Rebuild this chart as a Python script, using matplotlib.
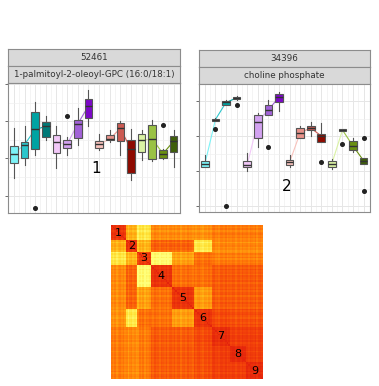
import matplotlib

matplotlib.use("Agg")
import matplotlib.pyplot as plt
import numpy as np
from matplotlib.colors import LinearSegmentedColormap

# box colours, four groups of four
box_colors = [
    "#7CF2F6", "#2CC6CC", "#00A3A3", "#007A78",
    "#F2C8F8", "#D2A2F0", "#A262D8", "#7C08C8",
    "#F8C2BC", "#E8928A", "#CC5A52", "#8E0A00",
    "#DAF2A4", "#9AC244", "#6A9010", "#3E5E0A",
]

# panel 1: 52461 / 1-palmitoyl-2-oleoyl-GPC
p1_whislo = [0.46, 0.82, 1.08, 1.49, 0.73, 1.08, 1.35, 1.86, 1.22, 1.44, 1.08, 0.41, 0.95, 0.93, 0.99, 0.77]
p1_q1 = [0.88, 1.01, 1.26, 1.58, 1.15, 1.29, 1.56, 2.10, 1.28, 1.49, 1.47, 0.62, 1.16, 0.99, 1.02, 1.16]
p1_med = [1.13, 1.37, 1.78, 1.86, 1.43, 1.38, 1.93, 2.41, 1.38, 1.52, 1.81, 1.24, 1.49, 1.52, 1.13, 1.46]
p1_q3 = [1.33, 1.44, 2.24, 1.98, 1.62, 1.50, 2.04, 2.59, 1.47, 1.62, 1.95, 1.50, 1.65, 1.91, 1.22, 1.60]
p1_whishi = [1.83, 1.86, 2.53, 2.13, 1.86, 1.58, 2.36, 2.83, 1.65, 1.76, 2.02, 1.80, 1.77, 2.04, 1.26, 1.77]
p1_fliers = {3: [-0.33], 6: [2.15], 15: [1.91]}

# panel 2: 34396 / choline phosphate
p2_whislo = [1.11, 2.43, 2.89, 3.05, 1.01, 1.68, 2.60, 2.73, 1.13, 1.94, 2.01, 1.84, 1.06, 2.15, 1.55, 1.22]
p2_q1 = [1.13, 2.45, 2.90, 3.07, 1.11, 1.94, 2.62, 2.99, 1.17, 1.96, 2.18, 1.84, 1.13, 2.15, 1.60, 1.22]
p2_med = [1.20, 2.48, 2.97, 3.10, 1.18, 2.41, 2.76, 3.12, 1.25, 2.10, 2.24, 2.01, 1.22, 2.18, 1.72, 1.30]
p2_q3 = [1.28, 2.51, 3.00, 3.14, 1.28, 2.60, 2.90, 3.22, 1.32, 2.24, 2.31, 2.08, 1.28, 2.20, 1.86, 1.37]
p2_whishi = [1.46, 2.53, 3.05, 3.16, 1.53, 2.67, 3.05, 3.28, 1.46, 2.29, 2.41, 2.38, 1.34, 2.21, 1.94, 1.37]
p2_fliers = {2: [2.20], 3: [0.0], 4: [2.90], 7: [1.68], 12: [1.25], 14: [1.79], 16: [1.96, 0.42]}

# heatmap: cluster sizes and block levels (1 = red, 0 = yellow)
cluster_sizes = [9, 7, 8, 13, 13, 11, 11, 10, 10]
cluster_labels = ["1", "2", "3", "4", "5", "6", "7", "8", "9"]
block_levels = [
    [0.92, 0.50, 0.30, 0.62, 0.62, 0.60, 0.66, 0.66, 0.66],
    [0.50, 0.92, 0.48, 0.74, 0.74, 0.28, 0.62, 0.62, 0.62],
    [0.30, 0.48, 0.88, 0.18, 0.55, 0.70, 0.66, 0.66, 0.66],
    [0.62, 0.74, 0.18, 0.92, 0.70, 0.70, 0.76, 0.76, 0.76],
    [0.62, 0.74, 0.55, 0.70, 0.92, 0.56, 0.76, 0.76, 0.76],
    [0.60, 0.28, 0.70, 0.70, 0.56, 0.92, 0.82, 0.80, 0.80],
    [0.66, 0.62, 0.66, 0.76, 0.76, 0.82, 0.94, 0.86, 0.86],
    [0.66, 0.62, 0.66, 0.76, 0.76, 0.80, 0.86, 0.96, 0.86],
    [0.66, 0.62, 0.66, 0.76, 0.76, 0.80, 0.86, 0.86, 0.96],
]
# per-variable stripe offsets, one per row/column (gives the streaky look)
stripe = [
    0.02, -0.06, 0.04, -0.10, 0.00, 0.05, -0.04, 0.03, -0.08,
    0.04, -0.12, 0.02, 0.06, -0.05, 0.01, -0.09,
    -0.14, 0.03, -0.06, 0.05, -0.10, 0.02, -0.03, 0.04,
    0.03, -0.05, 0.06, -0.02, 0.01, -0.08, 0.04, 0.00, -0.04, 0.05, -0.07, 0.02, 0.03,
    -0.03, 0.05, -0.06, 0.02, 0.04, -0.10, 0.01, 0.03, -0.05, 0.06, -0.02, 0.00, -0.07,
    0.04, -0.06, 0.02, 0.05, -0.03, -0.09, 0.03, 0.01, -0.05, 0.06, -0.02,
    0.02, 0.05, -0.04, 0.00, -0.08, 0.04, 0.03, -0.03, 0.06, -0.06, 0.01,
    -0.02, 0.05, 0.03, -0.07, 0.02, 0.04, -0.04, 0.06, -0.01, 0.00,
    0.03, -0.05, 0.05, 0.01, -0.03, 0.06, -0.08, 0.02, 0.04, -0.02,
]

W, H = 379, 386


def px_axes(fig, x0, y0, x1, y1):
    return fig.add_axes([x0 / W, 1 - y1 / H, (x1 - x0) / W, (y1 - y0) / H])


def strip(fig, x0, y0, x1, y1, text):
    ax = px_axes(fig, x0, y0, x1, y1)
    ax.set_facecolor("#D9D9D9")
    ax.set_xticks([])
    ax.set_yticks([])
    for s in ax.spines.values():
        s.set_color("#8C8C8C")
        s.set_linewidth(0.8)
    ax.text(0.5, 0.5, text, ha="center", va="center", fontsize=6.3, color="#333333", transform=ax.transAxes)


def box_panel(fig, rect, titles, whislo, q1, med, q3, whishi, fliers, ylim, label, label_pos):
    x0, y0, x1, y1 = rect
    strip(fig, x0, y0, x1, y0 + 17, titles[0])
    strip(fig, x0, y0 + 17, x1, y0 + 34, titles[1])
    ax = px_axes(fig, x0, y0 + 34, x1, y1)
    pos = np.arange(1, 17)
    stats = []
    for i in range(16):
        stats.append(dict(whislo=whislo[i], q1=q1[i], med=med[i], q3=q3[i], whishi=whishi[i],
                          fliers=fliers.get(i + 1, [])))
    art = ax.bxp(stats, positions=pos, widths=0.72, patch_artist=True, zorder=3,
                 boxprops=dict(edgecolor="#555555", linewidth=0.8),
                 medianprops=dict(color="#333333", linewidth=1.0),
                 whiskerprops=dict(color="#555555", linewidth=0.8),
                 capprops=dict(linewidth=0),
                 flierprops=dict(marker="o", markersize=2.6, markerfacecolor="#222222",
                                 markeredgecolor="#222222"))
    for patch, c in zip(art["boxes"], box_colors):
        patch.set_facecolor(c)
    # median lines within each group
    for g in range(4):
        for k in range(3):
            i = g * 4 + k
            ax.plot(pos[i:i + 2], med[i:i + 2], color=box_colors[i], linewidth=0.8, zorder=2)
    ax.set_xlim(0.45, 16.6)
    ax.set_ylim(*ylim)
    ax.set_yticks([0, 1, 2, 3])
    ax.set_yticks([0.5, 1.5, 2.5], minor=True)
    ax.set_xticks(pos)
    ax.set_xticks(pos[:-1] + 0.5, minor=True)
    ax.set_xticklabels([])
    ax.set_yticklabels([])
    ax.tick_params(axis="y", which="major", length=2.5, color="#555555", width=0.6)
    ax.tick_params(axis="y", which="minor", length=0)
    ax.tick_params(axis="x", which="both", length=0)
    ax.grid(True, which="major", color="#E6E6E6", linewidth=0.7)
    ax.grid(True, which="minor", color="#F0F0F0", linewidth=0.5)
    ax.set_axisbelow(True)
    for s in ax.spines.values():
        s.set_color("#8C8C8C")
        s.set_linewidth(0.8)
    ax.text(label_pos[0], label_pos[1], label, fontsize=11, color="black",
            ha="center", va="center", transform=ax.transAxes, zorder=5)


fig = plt.figure(figsize=(W / 100, H / 100), dpi=100)

box_panel(fig, (8, 49, 180, 213), ["52461", "1-palmitoyl-2-oleoyl-GPC (16:0/18:1)"],
          p1_whislo, p1_q1, p1_med, p1_q3, p1_whishi, p1_fliers, (-0.47, 3.03), "1", (0.51, 0.34))
box_panel(fig, (199, 50, 370, 212), ["34396", "choline phosphate"],
          p2_whislo, p2_q1, p2_med, p2_q3, p2_whishi, p2_fliers, (-0.17, 3.5), "2", (0.51, 0.2))

# heatmap
groups = np.repeat(np.arange(len(cluster_sizes)), cluster_sizes)
levels = np.array(block_levels)
offs = np.array(stripe)
mat = levels[groups][:, groups] + (offs[:, None] + offs[None, :]) / 2
np.fill_diagonal(mat, 1.0)
heat_cmap = LinearSegmentedColormap.from_list(
    "heat", ["#FFFF7A", "#FFE034", "#FFB012", "#FF7A08", "#F4440A", "#E4240C"])
hax = px_axes(fig, 111, 225, 263, 379)
hax.imshow(mat, cmap=heat_cmap, vmin=0.15, vmax=1.0, interpolation="nearest", aspect="auto")
hax.set_xticks([])
hax.set_yticks([])
for s in hax.spines.values():
    s.set_visible(False)
edges = np.concatenate([[0], np.cumsum(cluster_sizes)])
for k, lab in enumerate(cluster_labels):
    c = (edges[k] + edges[k + 1]) / 2 - 0.5
    hax.text(c, c, lab, fontsize=8, color="black", ha="center", va="center")

fig.savefig("out.png", dpi=100)
